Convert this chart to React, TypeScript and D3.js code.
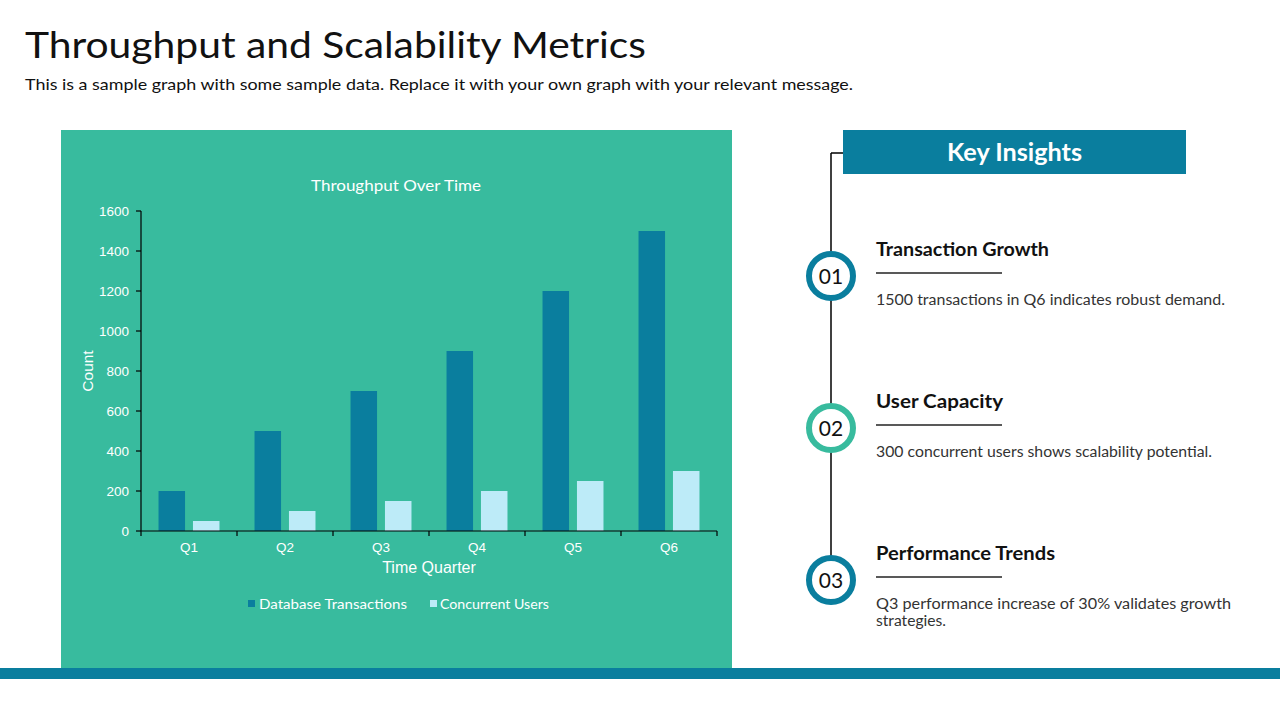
import React from "react";
import * as d3 from "d3";

const quarters = ["Q1", "Q2", "Q3", "Q4", "Q5", "Q6"];
const seriesNames = ["Database Transactions", "Concurrent Users"];
const dbTransactions = [200, 500, 700, 900, 1200, 1500];
const concurrentUsers = [50, 100, 150, 200, 250, 300];
const yTicks = [0, 200, 400, 600, 800, 1000, 1200, 1400, 1600];

const insightNums = ["01", "02", "03"];
const insightTitles = ["Transaction Growth", "User Capacity", "Performance Trends"];
const insightLines = [
  ["1500 transactions in Q6 indicates robust demand."],
  ["300 concurrent users shows scalability potential."],
  ["Q3 performance increase of 30% validates growth", "strategies."],
];

// measured text widths (layout only)
const titleWidths = [173, 127, 179];
const lineWidths = [[349], [336], [355, 70]];

const DARK = "#0A7E9E";
const LIGHT = "#BDEBF8";
const TEAL = "#38BB9E";
const FONT = "'Lato', 'Open Sans', sans-serif";
const ARIAL = "Arial, 'Liberation Sans', sans-serif";

export default function App() {
  const W = 1280, H = 720;
  const plotL = 141, plotR = 717, plotT = 211, plotB = 531;
  const x = d3.scaleBand<string>().domain(quarters).range([plotL, plotR]).paddingInner(0.365).paddingOuter(0.1825);
  const xs = d3.scaleBand<string>().domain(seriesNames).range([0, x.bandwidth()]).paddingInner(0.23);
  const y = d3.scaleLinear().domain([0, 1600]).range([plotB, plotT]);
  const step = x.step();
  const boundaries = d3.range(quarters.length + 1).map((i) => plotL + i * step);
  const series = [
    { name: seriesNames[0], values: dbTransactions, color: DARK },
    { name: seriesNames[1], values: concurrentUsers, color: LIGHT },
  ];
  const circleY = [276, 428, 580];
  const circleColors = [DARK, TEAL, DARK];

  return (
    <svg width={W} height={H} style={{ position: "absolute", left: 0, top: 0, background: "#fff" }}>
      <rect x={0} y={0} width={W} height={H} fill="#fff" />
      <text x={25} y={58} fontFamily={FONT} fontSize={37} fill="#111" textLength={621} lengthAdjust="spacingAndGlyphs">
        Throughput and Scalability Metrics
      </text>
      <text x={25} y={90} fontFamily={FONT} fontSize={15} fill="#111" textLength={828} lengthAdjust="spacingAndGlyphs">
        This is a sample graph with some sample data. Replace it with your own graph with your relevant message.
      </text>

      {/* chart panel */}
      <rect x={61} y={130} width={671} height={538} fill={TEAL} />
      <text x={311} y={191} fontFamily={FONT} fontSize={16} fill="#fff" textLength={170} lengthAdjust="spacingAndGlyphs">Throughput Over Time</text>

      {series.map((s) =>
        quarters.map((q, i) => (
          <rect
            key={s.name + q}
            x={(x(q) as number) + (xs(s.name) as number)}
            y={y(s.values[i])}
            width={xs.bandwidth()}
            height={plotB - y(s.values[i])}
            fill={s.color}
          />
        ))
      )}

      {/* y axis */}
      <line x1={plotL} x2={plotL} y1={plotT} y2={plotB} stroke="#000" strokeWidth={1.2} />
      {yTicks.map((t) => (
        <g key={t}>
          <line x1={plotL - 5} x2={plotL} y1={y(t)} y2={y(t)} stroke="#000" strokeWidth={1.2} />
          <text x={plotL - 12} y={y(t) + 5} textAnchor="end" fontFamily={ARIAL} fontSize={13.5} fill="#fff">{t}</text>
        </g>
      ))}
      {/* x axis */}
      <line x1={plotL} x2={plotR} y1={plotB} y2={plotB} stroke="#000" strokeWidth={1.2} />
      {boundaries.map((b, i) => (
        <line key={i} x1={b} x2={b} y1={plotB} y2={plotB + 5} stroke="#000" strokeWidth={1.2} />
      ))}
      {quarters.map((q) => (
        <text key={q} x={(x(q) as number) + x.bandwidth() / 2} y={552} textAnchor="middle" fontFamily={ARIAL} fontSize={13.5} fill="#fff">{q}</text>
      ))}
      <text x={429} y={573} textAnchor="middle" fontFamily={ARIAL} fontSize={16} fill="#fff">Time Quarter</text>
      <text transform={`translate(93,371) rotate(-90)`} textAnchor="middle" fontFamily={ARIAL} fontSize={15.5} fill="#fff">Count</text>

      {/* legend */}
      <rect x={248} y={600} width={7} height={7} fill={DARK} />
      <text x={259} y={609} fontFamily={FONT} fontSize={13.5} fill="#fff" textLength={148} lengthAdjust="spacingAndGlyphs">{seriesNames[0]}</text>
      <rect x={430} y={600} width={7} height={7} fill={LIGHT} />
      <text x={440} y={609} fontFamily={FONT} fontSize={13.5} fill="#fff" textLength={109} lengthAdjust="spacingAndGlyphs">{seriesNames[1]}</text>

      {/* bottom bar */}
      <rect x={0} y={668} width={W} height={11} fill={DARK} />

      {/* key insights */}
      <line x1={831} x2={831} y1={153} y2={580} stroke="#000" strokeWidth={1.5} />
      <line x1={831} x2={843} y1={153} y2={153} stroke="#000" strokeWidth={1.5} />
      <rect x={843} y={130} width={343} height={44} fill={DARK} />
      <text x={947} y={161} fontFamily={FONT} fontWeight={700} fontSize={24} fill="#fff" textLength={135} lengthAdjust="spacingAndGlyphs">Key Insights</text>

      {insightNums.map((num, i) => {
        const cy = circleY[i];
        return (
          <g key={num}>
            <circle cx={831} cy={cy} r={22} fill="#fff" stroke={circleColors[i]} strokeWidth={6} />
            <text x={831} y={cy + 7.5} textAnchor="middle" fontFamily={FONT} fontSize={21} fill="#111">{num}</text>
            <text x={876} y={cy - 20} fontFamily={FONT} fontWeight={700} fontSize={19} fill="#111" textLength={titleWidths[i]} lengthAdjust="spacingAndGlyphs">{insightTitles[i]}</text>
            <line x1={876} x2={1002} y1={cy - 3} y2={cy - 3} stroke="#222" strokeWidth={1.5} />
            {insightLines[i].map((ln, j) => (
              <text key={j} x={876} y={cy + 29 + j * 17} fontFamily={FONT} fontSize={14.5} fill="#333" textLength={lineWidths[i][j]} lengthAdjust="spacingAndGlyphs">{ln}</text>
            ))}
          </g>
        );
      })}
    </svg>
  );
}
